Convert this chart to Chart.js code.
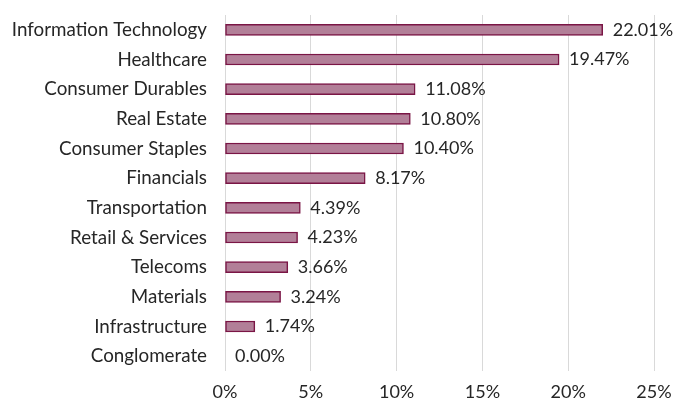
<!DOCTYPE html>
<html>
<head>
<meta charset="utf-8">
<script src="https://cdn.jsdelivr.net/npm/chart.js@4/dist/chart.umd.min.js"></script>
<style>
  html, body { margin: 0; padding: 0; background: #fff; }
  #chart { display: block; }
</style>
</head>
<body>
<canvas id="chart" width="675" height="403"></canvas>
<script>
'use strict';

const sectors = [
  'Information Technology',
  'Healthcare',
  'Consumer Durables',
  'Real Estate',
  'Consumer Staples',
  'Financials',
  'Transportation',
  'Retail & Services',
  'Telecoms',
  'Materials',
  'Infrastructure',
  'Conglomerate',
];
const weights = [22.01, 19.47, 11.08, 10.8, 10.4, 8.17, 4.39, 4.23, 3.66, 3.24, 1.74, 0];
const xTicks = [0, 5, 10, 15, 20, 25];

const fontFamily = 'Lato, "Open Sans", sans-serif';

// Value labels at the end of each bar
const valueLabels = {
  id: 'valueLabels',
  afterDatasetsDraw(chart) {
    const ctx = chart.ctx;
    const meta = chart.getDatasetMeta(0);
    ctx.save();
    ctx.font = `18px ${fontFamily}`;
    ctx.fillStyle = '#262626';
    ctx.textAlign = 'left';
    ctx.textBaseline = 'middle';
    meta.data.forEach((bar, i) => {
      ctx.fillText(`${weights[i].toFixed(2)}%`, bar.x + 10, bar.y);
    });
    ctx.restore();
  },
};

// tick padding gets added to the scale's own edge padding, drop it so layout.padding rules
const fixX = function (scale) {
  scale.height = 32;
  scale.paddingLeft = 0;
  scale.paddingRight = 0;
};
const fixY = function (scale) {
  scale.width = 225;
  scale.paddingTop = 0;
  scale.paddingBottom = 0;
};

const ctx = document.querySelector('#chart').getContext('2d');

new Chart(ctx, {
  type: 'bar',
  data: {
    labels: sectors,
    datasets: [
      {
        data: weights,
        backgroundColor: '#b27f98',
        borderColor: '#7a1545',
        borderWidth: 1.5,
        borderSkipped: false,
        barThickness: 11,
      },
    ],
  },
  options: {
    indexAxis: 'y',
    responsive: false,
    animation: false,
    layout: {
      padding: { top: 15, right: 21, bottom: 0, left: 0 },
    },
    plugins: {
      legend: { display: false },
      tooltip: { enabled: false },
    },
    scales: {
      x: {
        min: 0,
        max: 25,
        afterFit: fixX,
        afterBuildTicks: scale => (scale.ticks = xTicks.map(v => ({ value: v }))),
        grid: {
          color: '#d9d9d9',
          lineWidth: 1,
          drawTicks: false,
        },
        border: { display: false },
        ticks: {
          padding: 10,
          color: '#262626',
          font: { family: fontFamily, size: 18 },
          callback: v => `${v}%`,
        },
      },
      y: {
        afterFit: fixY,
        grid: { display: false, drawTicks: false },
        border: { display: false },
        ticks: {
          padding: 18,
          color: '#262626',
          font: { family: fontFamily, size: 18.8 },
        },
      },
    },
  },
  plugins: [valueLabels],
});
</script>
</body>
</html>
